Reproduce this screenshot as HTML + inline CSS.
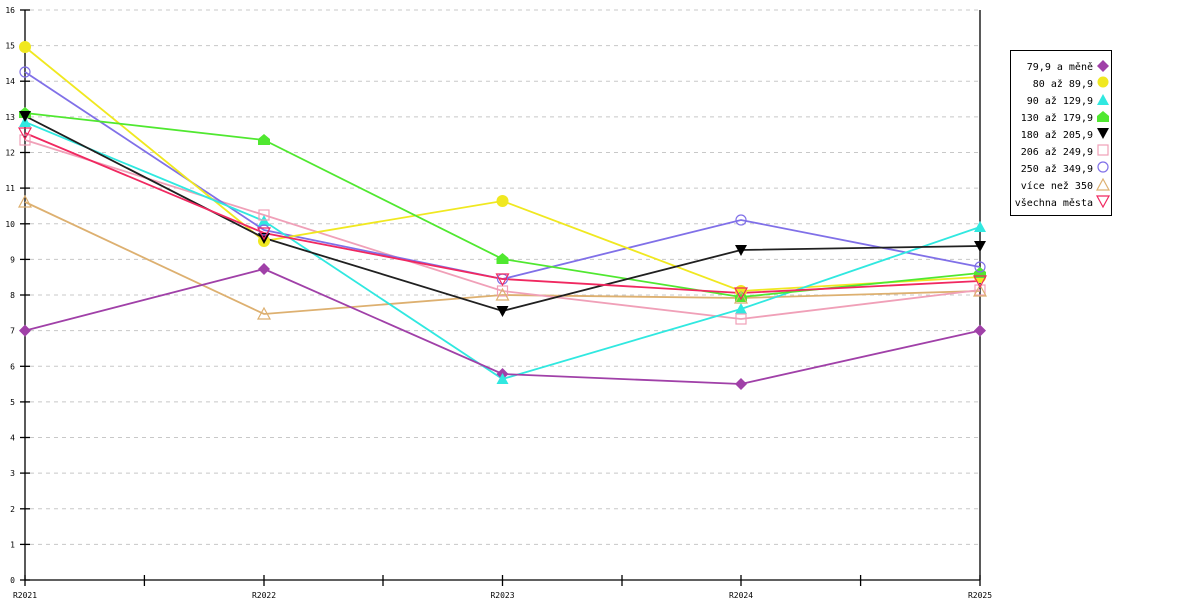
<!DOCTYPE html><html><head><style>body{margin:0;background:#fff}svg{display:block}text{font-family:"DejaVu Sans Mono","Liberation Mono",monospace}</style></head><body>
<svg width="1200" height="600" viewBox="0 0 1200 600">
<g stroke="#c8c8c8" stroke-dasharray="4,4" stroke-width="1">
<line x1="30" x2="980" y1="45.6" y2="45.6"/><line x1="30" x2="980" y1="81.2" y2="81.2"/><line x1="30" x2="980" y1="116.9" y2="116.9"/><line x1="30" x2="980" y1="152.5" y2="152.5"/><line x1="30" x2="980" y1="188.1" y2="188.1"/><line x1="30" x2="980" y1="223.8" y2="223.8"/><line x1="30" x2="980" y1="259.4" y2="259.4"/><line x1="30" x2="980" y1="295" y2="295"/><line x1="30" x2="980" y1="330.6" y2="330.6"/><line x1="30" x2="980" y1="366.3" y2="366.3"/><line x1="30" x2="980" y1="401.9" y2="401.9"/><line x1="30" x2="980" y1="437.5" y2="437.5"/><line x1="30" x2="980" y1="473.1" y2="473.1"/><line x1="30" x2="980" y1="508.8" y2="508.8"/><line x1="30" x2="980" y1="544.4" y2="544.4"/><line x1="30" x2="980" y1="10" y2="10"/>
</g>
<g stroke="#000" stroke-width="1.3">
<line x1="25" y1="10" x2="25" y2="580"/><line x1="980" y1="10" x2="980" y2="580"/><line x1="25" y1="580" x2="980" y2="580"/>
<line x1="20" x2="30" y1="10" y2="10"/><line x1="20" x2="30" y1="45.6" y2="45.6"/><line x1="20" x2="30" y1="81.2" y2="81.2"/><line x1="20" x2="30" y1="116.9" y2="116.9"/><line x1="20" x2="30" y1="152.5" y2="152.5"/><line x1="20" x2="30" y1="188.1" y2="188.1"/><line x1="20" x2="30" y1="223.8" y2="223.8"/><line x1="20" x2="30" y1="259.4" y2="259.4"/><line x1="20" x2="30" y1="295" y2="295"/><line x1="20" x2="30" y1="330.6" y2="330.6"/><line x1="20" x2="30" y1="366.3" y2="366.3"/><line x1="20" x2="30" y1="401.9" y2="401.9"/><line x1="20" x2="30" y1="437.5" y2="437.5"/><line x1="20" x2="30" y1="473.1" y2="473.1"/><line x1="20" x2="30" y1="508.8" y2="508.8"/><line x1="20" x2="30" y1="544.4" y2="544.4"/><line x1="20" x2="30" y1="580" y2="580"/>
<line x1="25" x2="25" y1="575" y2="586"/><line x1="144.4" x2="144.4" y1="575" y2="586"/><line x1="264" x2="264" y1="575" y2="586"/><line x1="383" x2="383" y1="575" y2="586"/><line x1="502.5" x2="502.5" y1="575" y2="586"/><line x1="622" x2="622" y1="575" y2="586"/><line x1="741" x2="741" y1="575" y2="586"/><line x1="860.6" x2="860.6" y1="575" y2="586"/><line x1="980" x2="980" y1="575" y2="586"/>
</g>
<g font-size="8" fill="#000" text-anchor="end">
<text x="15" y="13">16</text><text x="15" y="48.6">15</text><text x="15" y="84.2">14</text><text x="15" y="119.9">13</text><text x="15" y="155.5">12</text><text x="15" y="191.1">11</text><text x="15" y="226.8">10</text><text x="15" y="262.4">9</text><text x="15" y="298">8</text><text x="15" y="333.6">7</text><text x="15" y="369.3">6</text><text x="15" y="404.9">5</text><text x="15" y="440.5">4</text><text x="15" y="476.1">3</text><text x="15" y="511.8">2</text><text x="15" y="547.4">1</text><text x="15" y="583">0</text>
</g>
<g font-size="8" fill="#000" text-anchor="middle">
<text x="25" y="598">R2021</text><text x="264" y="598">R2022</text><text x="502.5" y="598">R2023</text><text x="741" y="598">R2024</text><text x="980" y="598">R2025</text>
</g>
<g fill="none" stroke-width="1.8">
<polyline stroke="#ddb070" points="25,202 264,314 502.5,295 741,298 980,291"/>
<polyline stroke="#f0a0b8" points="25,140 264,215 502.5,291 741,319 980,290"/>
<polyline stroke="#8070e8" points="25,72 264,230 502.5,279 741,220 980,267"/>
<polyline stroke="#f0e820" points="25,47 264,241 502.5,201 741,291 980,277"/>
<polyline stroke="#30e8e0" points="25,122 264,221 502.5,379 741,309 980,227"/>
<polyline stroke="#50e830" points="25,113 264,140 502.5,259 741,297 980,273"/>
<polyline stroke="#a040a8" points="25,330.6 264,269 502.5,374 741,384 980,330.6"/>
<polyline stroke="#202020" points="25,116 264,238 502.5,311 741,250 980,246"/>
<polyline stroke="#f02860" points="25,133 264,233 502.5,279 741,293 980,281"/>
</g>
<defs>
<path id="dia" d="M0,-6 L6,0 L0,6 L-6,0Z"/>
<path id="tu" d="M0,-6 L6,5 L-6,5Z"/>
<path id="td" d="M0,6 L6,-5 L-6,-5Z"/>
<path id="pent" d="M0,-6 L6,-1 L6,5 L-6,5 L-6,-1Z"/>
</defs>
<g fill="#a040a8"><use href="#dia" x="25" y="330.6"/><use href="#dia" x="264" y="269"/><use href="#dia" x="502.5" y="374"/><use href="#dia" x="741" y="384"/><use href="#dia" x="980" y="330.6"/></g>
<g fill="#f0e820"><circle cx="25" cy="47" r="6"/><circle cx="264" cy="241" r="6"/><circle cx="502.5" cy="201" r="6"/><circle cx="741" cy="291" r="6"/><circle cx="980" cy="277" r="6"/></g>
<g fill="#30e8e0"><use href="#tu" x="25" y="122"/><use href="#tu" x="264" y="221"/><use href="#tu" x="502.5" y="379"/><use href="#tu" x="741" y="309"/><use href="#tu" x="980" y="227"/></g>
<g fill="#50e830"><use href="#pent" x="25" y="113"/><use href="#pent" x="264" y="140"/><use href="#pent" x="502.5" y="259"/><use href="#pent" x="741" y="297"/><use href="#pent" x="980" y="273"/></g>
<g fill="#000"><use href="#td" x="25" y="116"/><use href="#td" x="264" y="238"/><use href="#td" x="502.5" y="311"/><use href="#td" x="741" y="250"/><use href="#td" x="980" y="246"/></g>
<g fill="none" stroke="#f0a0b8" stroke-width="1.2"><rect x="20" y="135" width="10" height="10"/><rect x="259" y="210" width="10" height="10"/><rect x="497.5" y="286" width="10" height="10"/><rect x="736" y="314" width="10" height="10"/><rect x="975" y="285" width="10" height="10"/></g>
<g fill="none" stroke="#8070e8" stroke-width="1.2"><circle cx="25" cy="72" r="5"/><circle cx="264" cy="230" r="5"/><circle cx="502.5" cy="279" r="5"/><circle cx="741" cy="220" r="5"/><circle cx="980" cy="267" r="5"/></g>
<g fill="none" stroke="#ddb070" stroke-width="1.2"><use href="#tu" x="25" y="202"/><use href="#tu" x="264" y="314"/><use href="#tu" x="502.5" y="295"/><use href="#tu" x="741" y="298"/><use href="#tu" x="980" y="291"/></g>
<g fill="none" stroke="#f02860" stroke-width="1.2"><use href="#td" x="25" y="133"/><use href="#td" x="264" y="233"/><use href="#td" x="502.5" y="279"/><use href="#td" x="741" y="293"/><use href="#td" x="980" y="281"/></g>
<rect x="1010.5" y="50.5" width="101" height="165" fill="#fff" stroke="#000"/>
<g font-size="10" fill="#000" text-anchor="end">
<text x="1093" y="70">79,9 a měně</text><text x="1093" y="87">80 až 89,9</text><text x="1093" y="104">90 až 129,9</text><text x="1093" y="121">130 až 179,9</text><text x="1093" y="138">180 až 205,9</text><text x="1093" y="155">206 až 249,9</text><text x="1093" y="172">250 až 349,9</text><text x="1093" y="189">více než 350</text><text x="1093" y="206">všechna města</text>
</g>
<use href="#dia" x="1103" y="66" fill="#a040a8"/>
<circle cx="1103" cy="82" r="5.5" fill="#f0e820"/>
<use href="#tu" x="1103" y="100" fill="#30e8e0"/>
<use href="#pent" x="1103" y="117" fill="#50e830"/>
<use href="#td" x="1103" y="133" fill="#000"/>
<rect x="1098" y="145" width="10" height="10" fill="none" stroke="#f0a0b8" stroke-width="1.2"/>
<circle cx="1103" cy="167" r="5" fill="none" stroke="#8070e8" stroke-width="1.2"/>
<use href="#tu" x="1103" y="185" fill="none" stroke="#ddb070" stroke-width="1.2"/>
<use href="#td" x="1103" y="201" fill="none" stroke="#f02860" stroke-width="1.2"/>
</svg>
</body></html>
